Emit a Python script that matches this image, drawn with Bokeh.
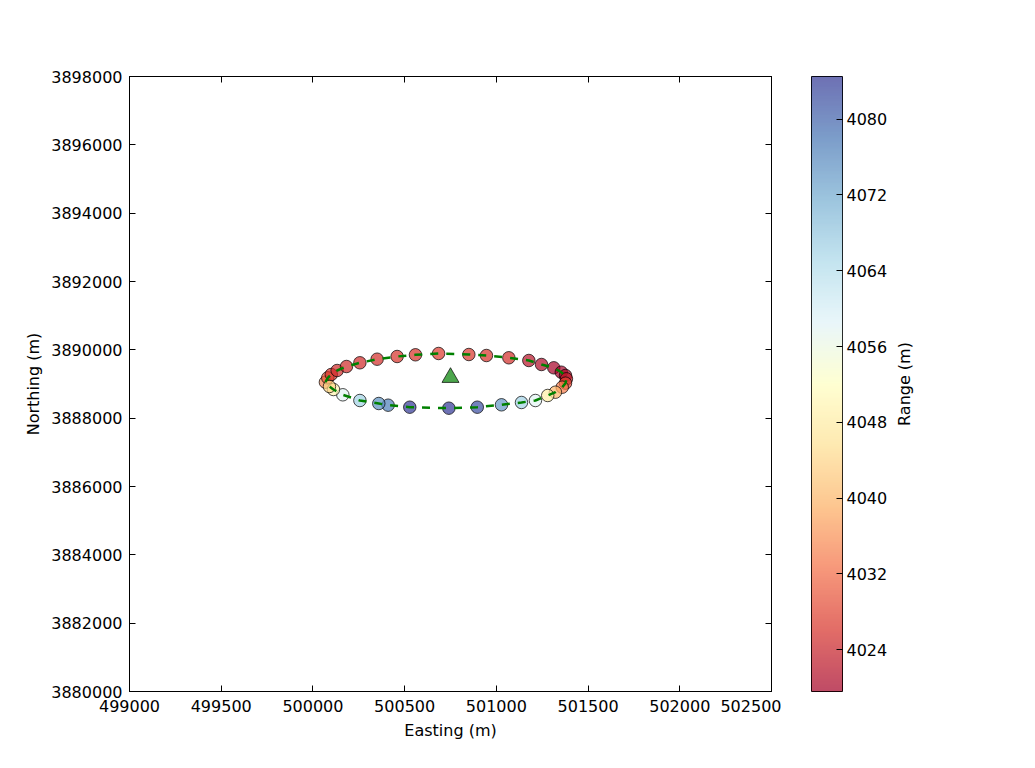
import math
import numpy as np
from bokeh.plotting import figure
from bokeh.models import (Range1d, LinearAxis, FixedTicker, BasicTickFormatter,
                          LinearColorMapper, ColumnDataSource)
from bokeh.core.properties import value
from bokeh.transform import transform
from bokeh.layouts import row
from bokeh.embed import file_html
from bokeh.resources import INLINE

# ---- data ----
easting = [500068, 500081, 500100, 500132, 500183, 500256, 500350, 500459, 500559,
           500685, 500850, 500946, 501068, 501177, 501246, 501313, 501354, 501377,
           501382, 501377, 501359, 501322, 501280, 501213, 501137, 501028, 500896,
           500741, 500528, 500410, 500359, 500256, 500163, 500112, 500090]
northing = [3889053, 3889181, 3889278, 3889395, 3889512, 3889621, 3889726, 3889805, 3889855,
            3889893, 3889863, 3889834, 3889767, 3889688, 3889571, 3889474, 3889345, 3889249,
            3889152, 3889024, 3888906, 3888760, 3888664, 3888517, 3888459, 3888391, 3888321,
            3888292, 3888321, 3888380, 3888429, 3888517, 3888684, 3888839, 3888927]
range_m = [4035, 4030, 4026, 4025, 4025, 4025, 4025.5, 4026, 4026,
           4027, 4026.5, 4026, 4025.5, 4022, 4021, 4020, 4019.6, 4020.5,
           4023, 4028, 4034, 4040, 4048, 4058, 4066, 4074, 4082,
           4084.5, 4084, 4077, 4075, 4066, 4058, 4050, 4044]
transponder_e = [500750]
transponder_n = [3889190]

x_ticks = [499000, 499500, 500000, 500500, 501000, 501500, 502000, 502500]
y_ticks = [3880000, 3882000, 3884000, 3886000, 3888000, 3890000, 3892000, 3894000, 3896000, 3898000]
cbar_ticks = [4024, 4032, 4040, 4048, 4056, 4064, 4072, 4080]
cbar_title = "Range (m)"

RDYLBU = ['#a50026', '#d73027', '#f46d43', '#fdae61', '#fee090', '#ffffbf',
          '#e0f3f8', '#abd9e9', '#74add1', '#4575b4', '#313695']


def interp_palette(cols, n=256):
    rgb = np.array([[int(c[i:i + 2], 16) for i in (1, 3, 5)] for c in cols], dtype=float)
    pos = np.linspace(0, 1, len(cols))
    t = np.linspace(0, 1, n)
    out = []
    for v in t:
        r, g, b = (np.interp(v, pos, rgb[:, k]) for k in range(3))
        out.append('#%02x%02x%02x' % (int(round(r)), int(round(g)), int(round(b))))
    return out


palette = interp_palette(RDYLBU)
lo, hi = min(range_m), max(range_m)
mapper = LinearColorMapper(palette=palette, low=lo, high=hi)

FONT = "DejaVu Sans"
FS = "16px"

src = ColumnDataSource(dict(e=easting, n=northing, r=range_m))

p = figure(frame_width=642, frame_height=615,
           x_range=Range1d(x_ticks[0], x_ticks[-1]),
           y_range=Range1d(y_ticks[0], y_ticks[-1]),
           output_backend="svg", toolbar_location=None,
           min_border_left=129, min_border_right=10,
           min_border_top=76, min_border_bottom=70)
p.grid.visible = False
p.outline_line_color = "black"
p.outline_line_width = 1
p.background_fill_color = "white"
p.border_fill_color = "white"

for ax in (p.xaxis[0], p.yaxis[0]):
    ax.axis_line_color = "black"
    ax.major_tick_in = 6
    ax.major_tick_out = 0
    ax.minor_tick_line_color = None
    ax.major_tick_line_color = "black"
    ax.major_label_text_font = FONT
    ax.major_label_text_font_size = FS
    ax.major_label_text_color = "black"
    ax.axis_label_text_font = FONT
    ax.axis_label_text_font_size = FS
    ax.axis_label_text_font_style = "normal"
    ax.axis_label_text_color = "black"
    ax.formatter = BasicTickFormatter(use_scientific=False)

p.xaxis[0].major_label_standoff = 8
p.xaxis[0].axis_label_standoff = 6
p.yaxis[0].major_label_standoff = 7
p.yaxis[0].axis_label_standoff = 5

p.xaxis[0].ticker = FixedTicker(ticks=x_ticks)
p.yaxis[0].ticker = FixedTicker(ticks=y_ticks)
p.xaxis[0].axis_label = "Easting (m)"
p.yaxis[0].axis_label = "Northing (m)"

# mirrored tick marks on top and right (no labels drawn)
top = LinearAxis(ticker=FixedTicker(ticks=x_ticks), major_label_text_font_size="1px",
                 major_label_text_color=None, major_label_standoff=0,
                 major_tick_in=6, major_tick_out=0, minor_tick_line_color=None,
                 axis_line_color="black", major_tick_line_color="black")
right = LinearAxis(ticker=FixedTicker(ticks=y_ticks), major_label_text_font_size="1px",
                   major_label_text_color=None, major_label_standoff=0,
                   major_tick_in=6, major_tick_out=0, minor_tick_line_color=None,
                   axis_line_color="black", major_tick_line_color="black")
p.add_layout(top, "above")
p.add_layout(right, "right")

p.scatter("e", "n", source=src, marker="circle", size=12.5,
          fill_color=transform("r", mapper), fill_alpha=0.7,
          line_color="black", line_alpha=0.7, line_width=1)
p.line(easting + easting[:1], northing + northing[:1], line_color="green",
       line_width=2.5, line_dash="8 8")
p.scatter(transponder_e, transponder_n, marker="triangle", size=17,
          fill_color="green", fill_alpha=0.7, line_color="black", line_alpha=0.7)

# ---- colorbar ----
cb = figure(frame_width=31, frame_height=615, x_range=Range1d(0, 1), y_range=Range1d(lo, hi),
            y_axis_location="right", output_backend="svg", toolbar_location=None,
            min_border_left=30, min_border_right=50,
            min_border_top=76, min_border_bottom=70)
cb.grid.visible = False
cb.xaxis.visible = False
cb.outline_line_color = "black"
grad = np.linspace(lo, hi, 256).reshape(256, 1)
cb.image(image=[grad], x=0, y=lo, dw=1, dh=hi - lo, color_mapper=mapper, global_alpha=0.7)
ya = cb.yaxis[0]
ya.ticker = FixedTicker(ticks=cbar_ticks)
ya.axis_line_color = None
ya.major_tick_in = 6
ya.major_tick_out = 0
ya.minor_tick_line_color = None
ya.major_tick_line_color = "black"
ya.major_label_text_font = FONT
ya.major_label_text_font_size = FS
ya.major_label_text_color = "black"
ya.major_label_standoff = 4

# ---- colorbar title (rotated, reading upwards) ----
lab = figure(frame_width=24, frame_height=615, x_range=Range1d(0, 1), y_range=Range1d(0, 1),
             output_backend="svg", toolbar_location=None,
             min_border_left=0, min_border_right=10,
             min_border_top=76, min_border_bottom=70)
lab.axis.visible = False
lab.grid.visible = False
lab.outline_line_color = None
lab.text(x=[0.5], y=[0.5], text=[cbar_title], angle=math.pi / 2,
         text_align="center", text_baseline="middle",
         text_font=value(FONT), text_font_size=FS, text_color="black")

layout = row(p, cb, lab)
open("out.html", "w").write(file_html(layout, INLINE))
